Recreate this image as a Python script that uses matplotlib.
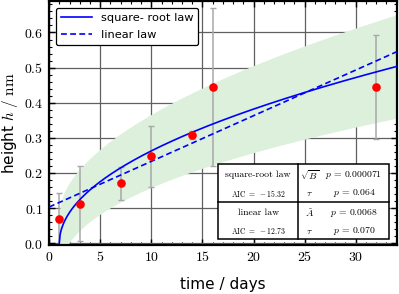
import numpy as np
import matplotlib
matplotlib.use("Agg")
import matplotlib.pyplot as plt
from matplotlib.ticker import MultipleLocator, FuncFormatter
from matplotlib.patches import Rectangle

plt.rcParams['mathtext.fontset'] = 'cm'

# measured points
days = [1, 3, 7, 10, 14, 16, 32]
height = [0.068, 0.112, 0.171, 0.247, 0.309, 0.445, 0.445]
height_err = [0.074, 0.107, 0.047, 0.088, 0.011, 0.226, 0.149]

# fitted models
sqrt_B = 0.0876      # h = B * sqrt(t - tau)
sqrt_tau = 1.0
lin_a = 0.103        # h = a + b * t
lin_b = 0.0130
band_a = 0.082       # half width of the band: sqrt(a^2 + s^2 (t - tau))
band_s = 0.0213

table_rows = [
    ("square-root law", r"$\mathrm{AIC}\ =\ -15.32$", r"$\sqrt{B}$", r"$p\,=\,0.000071$", r"$\tau$", r"$p\,=\,0.064$"),
    ("linear law", r"$\mathrm{AIC}\ =\ -12.73$", r"$\tilde{A}$", r"$p\,=\,0.0068$", r"$\tau$", r"$p\,=\,0.070$"),
]

fig = plt.figure(figsize=(3.99, 2.94), dpi=100)
ax = fig.add_axes([0.123, 0.168, 0.871, 0.829])

t = np.linspace(sqrt_tau, 34, 400)
h_sqrt = sqrt_B * np.sqrt(t - sqrt_tau)
half = np.sqrt(band_a ** 2 + band_s ** 2 * (t - sqrt_tau))
ax.fill_between(t, h_sqrt - half, h_sqrt + half, color='#dcf0dc', lw=0, zorder=1)

ax.grid(True, which='major', color='#606060', lw=0.9, zorder=0)
ax.set_axisbelow(True)

ax.plot(t, h_sqrt, color='#0000ff', lw=1.2, label='square- root law', zorder=3)
tl = np.linspace(0, 34, 50)
ax.plot(tl, lin_a + lin_b * tl, color='#0000ff', lw=1.2, ls=(0, (3.5, 2)), label='linear law', zorder=3)

ax.errorbar(days, height, yerr=height_err, fmt='none', ecolor='#a8a8a8', elinewidth=1.1,
            capsize=2, capthick=1.0, zorder=2)
ax.plot(days, height, 'o', color='#ff0000', ms=6.2, mec='none', zorder=4)

ax.set_xlim(0, 34)
ax.set_ylim(-0.004, 0.69)
ax.xaxis.set_major_locator(MultipleLocator(5))
ax.xaxis.set_minor_locator(MultipleLocator(1))
ax.yaxis.set_major_locator(MultipleLocator(0.1))
ax.yaxis.set_minor_locator(MultipleLocator(0.02))
ax.xaxis.set_major_formatter(FuncFormatter(lambda v, p: r"$%d$" % round(v)))
ax.yaxis.set_major_formatter(FuncFormatter(lambda v, p: r"$%.1f$" % v))
ax.tick_params(which='both', direction='in', top=True, right=True, color='black')
ax.tick_params(which='major', length=4, width=1.0, labelsize=10, pad=4)
ax.tick_params(which='minor', length=2, width=0.8)
for sp in ax.spines.values():
    sp.set_linewidth(1.6)

ax.set_xlabel("time / days", fontsize=11, labelpad=9)
ax.set_ylabel(r"height $h\ /\ \mathrm{nm}$", fontsize=11, labelpad=3)

leg = ax.legend(loc='upper left', fontsize=8.2, handlelength=2.7, labelspacing=0.6,
                borderpad=0.45, framealpha=1, edgecolor='black', fancybox=True,
                bbox_to_anchor=(0.003, 0.995))
leg.get_frame().set_linewidth(0.9)

# AIC / p-value table in the lower right corner
x0, x1, xm = 16.5, 33.3, 24.4
y0, y1, ym = 0.012, 0.226, 0.118
ax.add_patch(Rectangle((x0, y0), x1 - x0, y1 - y0, facecolor='white', edgecolor='black', lw=1.1, zorder=5))
ax.plot([x0, x1], [ym, ym], color='black', lw=1.1, zorder=6)
ax.plot([xm, xm], [y0, y1], color='black', lw=1.1, zorder=6)
serif = 'cmr10'
for i, row in enumerate(table_rows):
    ytop = y1 - i * (y1 - ym)
    ya = ytop - 0.032
    yb = ytop - 0.084
    ax.text((x0 + xm) / 2, ya, row[0], fontfamily=serif, fontsize=7, ha='center', va='center', zorder=7)
    ax.text((x0 + xm) / 2, yb, row[1], fontsize=5.5, ha='center', va='center', zorder=7)
    ax.text(25.5, ya, row[2], fontsize=7, ha='center', va='center', zorder=7)
    ax.text(29.8, ya, row[3], fontsize=7, ha='center', va='center', zorder=7)
    ax.text(25.5, yb, row[4], fontsize=7, ha='center', va='center', zorder=7)
    ax.text(29.9, yb, row[5], fontsize=7, ha='center', va='center', zorder=7)

fig.savefig("out.png", dpi=100)
